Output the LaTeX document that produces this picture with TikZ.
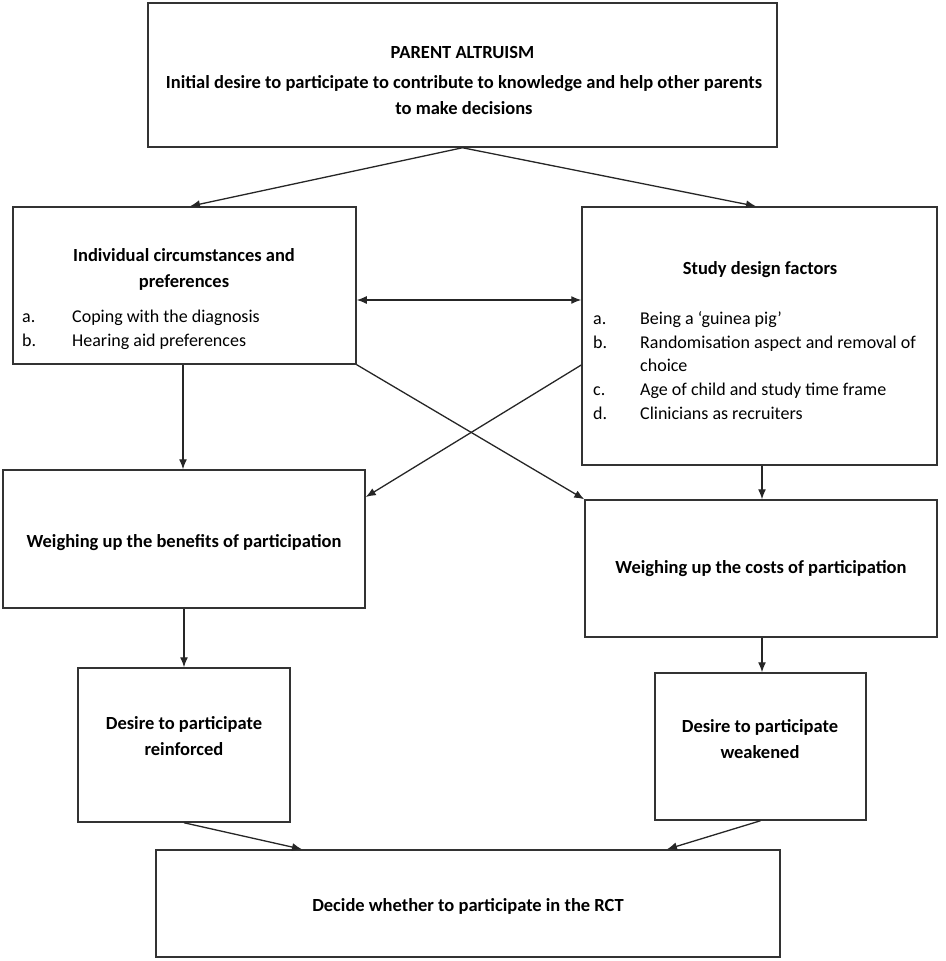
\documentclass[tikz,border=0pt]{standalone}
\usepackage{fontspec}
\setmainfont{Carlito}
\usetikzlibrary{arrows.meta,calc}
\begin{document}
\begin{tikzpicture}[x=1pt,y=-1pt,
  box/.style={draw=black!80, line width=1.5pt, fill=none, inner sep=0pt},
  ttl/.style={font=\bfseries\fontsize{18.5}{26}\selectfont, align=center, inner sep=0pt, text=black},
  lst/.style={font=\fontsize{18}{23.8}\selectfont, align=left, anchor=west, inner sep=0pt, text=black},
  arr/.style={draw=black!85, line width=1.3pt, -{Latex[length=10pt,width=8pt]}},
  arrb/.style={draw=black!85, line width=1.3pt, {Latex[length=10pt,width=8pt]}-{Latex[length=10pt,width=8pt]}}]
\useasboundingbox (0,0) rectangle (945,961);
% boxes
\node[box, minimum width=629pt, minimum height=144pt] (top) at (462.5,75) {};
\node[box, minimum width=343pt, minimum height=157pt] (ind) at (184.5,285.5) {};
\node[box, minimum width=355pt, minimum height=258pt] (sdf) at (759.5,336) {};
\node[box, minimum width=362pt, minimum height=138pt] (ben) at (184,539) {};
\node[box, minimum width=352pt, minimum height=137pt] (cost) at (761,568.5) {};
\node[box, minimum width=212pt, minimum height=154pt] (reinf) at (184,745) {};
\node[box, minimum width=211pt, minimum height=147pt] (weak) at (760.5,746.5) {};
\node[box, minimum width=624pt, minimum height=107pt] (dec) at (468,903.5) {};
% texts
\node[ttl] (tA) at (462.5,53) {PARENT ALTRUISM};
\node[ttl] (tB) at (464,95) {Initial desire to participate to contribute to knowledge and help other parents\\to make decisions};
\node[ttl] (tC) at (184,269) {Individual circumstances and\\preferences};
\node[lst] (tD) at (22,329.5) {\makebox[50pt][l]{a.}Coping with the diagnosis\\\makebox[50pt][l]{b.}Hearing aid preferences};
\node[ttl] (tE) at (760,270) {Study design factors};
\node[lst] (tF) at (593,365.5) {\makebox[47pt][l]{a.}Being a ‘guinea pig’\\\makebox[47pt][l]{b.}Randomisation aspect and removal of\\\hspace*{47pt}choice\\\makebox[47pt][l]{c.}Age of child and study time frame\\\makebox[47pt][l]{d.}Clinicians as recruiters};
\node[ttl] (tG) at (184,543) {Weighing up the benefits of participation};
\node[ttl] (tH) at (761,569) {Weighing up the costs of participation};
\node[ttl] (tI) at (184,736) {Desire to participate\\reinforced};
\node[ttl] (tJ) at (760,739.5) {Desire to participate\\weakened};
\node[ttl] (tK) at (468,906) {Decide whether to participate in the RCT};
% connectors
\draw[arr] (top.south) -- ([xshift=5.5pt]ind.north);
\draw[arr] (top.south) -- ([xshift=-3.5pt]sdf.north);
\draw[arrb] ([yshift=-14.5pt]ind.east) -- ([yshift=-14.5pt]ind.east -| sdf.west);
\draw[arr] ([xshift=-1.5pt]ind.south) -- ([xshift=-1.5pt]ind.south |- ben.north);
\draw[arr] (ind.south east) -- (cost.north west);
\draw[arr] ([yshift=-29pt]sdf.west) -- ([yshift=42pt]ben.east);
\draw[arr] ([xshift=2.5pt]sdf.south) -- ([xshift=2.5pt]sdf.south |- cost.north);
\draw[arr] (ben.south) -- (reinf.north);
\draw[arr] ([xshift=1pt]cost.south) -- ([xshift=1pt]cost.south |- weak.north);
\draw[arr] (reinf.south) -- ([xshift=-166pt]dec.north);
\draw[arr] (weak.south) -- ([xshift=199pt]dec.north);
\end{tikzpicture}
\end{document}
